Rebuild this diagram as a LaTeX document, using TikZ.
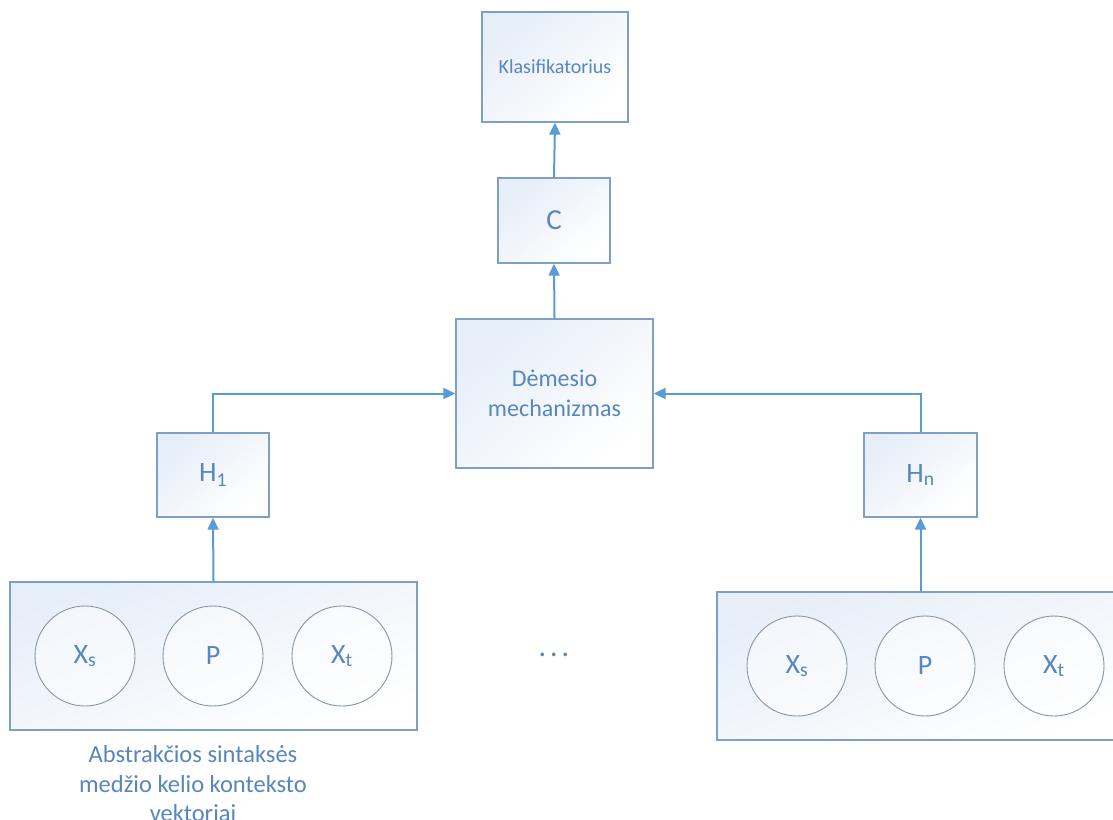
\documentclass[tikz,border=0pt]{standalone}
\usepackage{fontspec}
\setmainfont{Carlito}
\usetikzlibrary{arrows.meta}
\definecolor{txtc}{RGB}{88,134,190}
\definecolor{boxc}{RGB}{125,160,195}
\definecolor{arrc}{RGB}{91,155,213}
\definecolor{circc}{RGB}{135,150,165}
\definecolor{fillc}{RGB}{230,238,248}
\tikzset{
  blk/.style={draw=boxc, line width=1.3pt, top color=fillc, bottom color=white, shading angle=40, text=txtc, align=center, inner sep=0pt},
  ring/.style={circle, draw=circc, line width=0.9pt, minimum size=100pt, fill=white, fill opacity=0.5, text opacity=1, text=txtc, font=\fontsize{28}{30}\selectfont, inner sep=0pt},
  conn/.style={draw=arrc, line width=2pt, -{Triangle[width=11pt,length=12pt]}},
}
\begin{document}
\begin{tikzpicture}[x=1pt,y=-1pt]
\clip (0,0) rectangle (1113,819);
\fill[white] (0,0) rectangle (1113,819);
% top boxes
\node[blk, minimum width=146pt, minimum height=110pt, font=\fontsize{20}{22}\selectfont] (kl) at (555,67) {Klasifikatorius};
\node[blk, minimum width=112pt, minimum height=85pt, font=\fontsize{29}{31}\selectfont] (c) at (554,220.5) {C};
\node[blk, minimum width=197pt, minimum height=149pt, font=\fontsize{24}{30}\selectfont] (dm) at (554.5,393.5) {Dėmesio\\mechanizmas};
% H boxes
\node[blk, minimum width=112pt, minimum height=84pt, font=\fontsize{28}{30}\selectfont] (h1) at (213,475) {H\textsubscript{1}};
\node[blk, minimum width=113pt, minimum height=84pt, font=\fontsize{28}{30}\selectfont] (hn) at (920.5,475) {H\textsubscript{n}};
% big boxes
\node[blk, minimum width=407pt, minimum height=148pt, shading angle=20] (lb) at (213.5,656) {};
\node[blk, minimum width=420pt, minimum height=148pt, shading angle=20] (rb) at (927,666) {};
% circles
\node[ring] (xs1) at (85,656) {X\textsubscript{s}};
\node[ring] (p1) at (213,656) {P};
\node[ring] (xt1) at (342,656) {X\textsubscript{t}};
\node[ring] (xs2) at (797,666) {X\textsubscript{s}};
\node[ring] (p2) at (925,666) {P};
\node[ring] (xt2) at (1054,666) {X\textsubscript{t}};
% dots
\node[text=txtc, font=\fontsize{30}{32}\selectfont] (dots) at (554,655) {.\kern4pt.\kern4pt.};
% caption
\node[text=txtc, align=center, font=\fontsize{24.5}{29.5}\selectfont, anchor=north] (cap) at (193,742) {Abstrakčios sintaksės\\medžio kelio konteksto\\vektoriai};
% connectors
\draw[conn] (c.north) -- (kl.south);
\draw[conn] (dm.north) -- (c.south);
\draw[conn] (h1.north) |- (dm.west);
\draw[conn] (hn.north) |- (dm.east);
\draw[conn] (lb.north) -- (h1.south);
\draw[conn] (rb.north -| hn.south) -- (hn.south);
\end{tikzpicture}
\end{document}
